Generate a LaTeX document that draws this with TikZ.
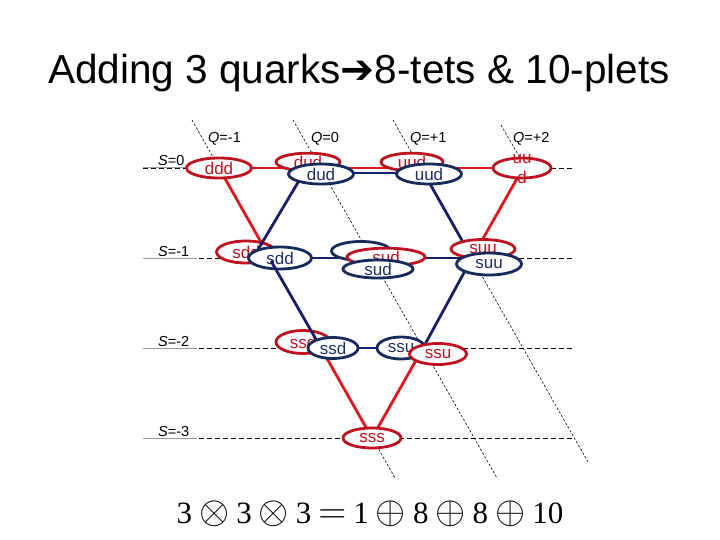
\documentclass[tikz,border=0pt]{standalone}
\usepackage{fix-cm}
\usepackage{graphicx}
\usepackage{fontspec}
\setmainfont{Liberation Sans}
\newfontfamily\dejavu{DejaVu Sans}
\newfontfamily\tnr{Liberation Serif}
\usetikzlibrary{shapes.geometric}
\definecolor{ellred}{RGB}{190,18,30}
\definecolor{linered}{RGB}{226,22,28}
\definecolor{navy}{RGB}{22,42,92}
\definecolor{navyline}{RGB}{26,30,104}
\definecolor{navytext}{RGB}{30,48,100}
\newcommand{\qgap}{\hspace{7pt}}
\newcommand{\qsym}[1]{\scalebox{1.25}{$#1$}}
\begin{document}
\begin{tikzpicture}[x=1pt,y=-1pt,
  redell/.style={ellipse, draw=ellred, line width=2.8pt, fill=white, inner sep=0pt, text=ellred, font=\fontsize{17}{20}\selectfont},
  blueell/.style={ellipse, draw=navy, line width=2.8pt, fill=white, inner sep=0pt, text=navytext, font=\fontsize{17}{20}\selectfont},
  redline/.style={draw=linered, line width=2.8pt},
  navline/.style={draw=navyline, line width=2.8pt},
  srow/.style={draw=black, line width=0.8pt, dash pattern=on 5pt off 3pt},
  sunder/.style={draw=gray!80, line width=1pt},
  qline/.style={draw=black, line width=0.6pt, dash pattern=on 2.5pt off 1.8pt},
  axlabel/.style={font=\fontsize{14.5}{16}\selectfont, anchor=base west, inner sep=0pt},
]
\useasboundingbox (0,0) rectangle (720,540);
\fill[white] (0,0) rectangle (720,540);

% title
\node[font=\fontsize{40.5}{48}\selectfont, anchor=base, inner sep=0pt] (title) at (359,84)
  {Adding 3 quarks{\dejavu ➔}8-tets \& 10-plets};

% grid: strangeness rows
\foreach \yy in {168,258,348,438} {
  \draw[srow] (143,\yy) -- (574,\yy);
  \draw[sunder] (143,\yy) -- (197,\yy);
}
\node[axlabel] (s0) at (158,166) {\textit{S}=0};
\node[axlabel] (s1) at (158,256) {\textit{S}=-1};
\node[axlabel] (s2) at (158,346) {\textit{S}=-2};
\node[axlabel] (s3) at (158,436) {\textit{S}=-3};

% grid: charge lines
\draw[qline] (192,120) -- (395,478);
\draw[qline] (293,120) -- (497,478);
\draw[qline] (393,120) -- (588,462);
\draw[qline] (501,125) -- (523,163);
\node[axlabel] (qm1) at (208,143) {\textit{Q}=-1};
\node[axlabel] (q0) at (311,143) {\textit{Q}=0};
\node[axlabel] (qp1) at (410,143) {\textit{Q}=+1};
\node[axlabel] (qp2) at (513,143) {\textit{Q}=+2};

% lattice points
\coordinate (pddd) at (219,168);
\coordinate (pdud) at (321,168);
\coordinate (puud) at (421,168);
\coordinate (puuu) at (523,168);
\coordinate (psdd) at (270,258);
\coordinate (psud) at (372,258);
\coordinate (psuu) at (472,258);
\coordinate (pssd) at (321,348);
\coordinate (pssu) at (423,348);
\coordinate (psss) at (372,438);
\coordinate (oa) at (303,174);
\coordinate (ob) at (253,258);
\coordinate (oc) at (271,261);
\coordinate (oh1) at (321,173);
\coordinate (oh2) at (429,173);

% decuplet connectors
\draw[redline] (pddd) -- (puuu);
\draw[redline] (pddd) -- (psdd);
\draw[redline] (pssd) -- (psss);
\draw[redline] (psss) -- (pssu);
\draw[redline] (psuu) -- (puuu);

% octet connectors (under decuplet ellipses)
\draw[navline] (puud) -- (psuu);
\draw[navline] (pssu) -- (psuu);
\draw[navline] (psdd) -- (psuu);

% decuplet ellipses
\node[redell, minimum width=65pt, minimum height=20pt] (dddR) at (219,168) {ddd};
\node[redell, minimum width=64pt, minimum height=17pt] (dudR) at (308,162) {dud};
\node[redell, minimum width=62pt, minimum height=17pt] (uudR) at (412,162) {uud};
\node[redell, minimum width=58pt, minimum height=20pt] (uuuR) at (522,168) {};
\node[font=\fontsize{17}{20}\selectfont, text=ellred, anchor=base, inner sep=0pt] (uuuA) at (522,164) {uu};
\node[font=\fontsize{17}{20}\selectfont, text=ellred, anchor=base, inner sep=0pt] (uuuB) at (522,184) {d};
\node[redell, minimum width=59pt, minimum height=22pt] (sddR) at (246,252) {sdd};
\node[redell, minimum width=64pt, minimum height=19pt] (suuR) at (483,249) {suu};
\node[redell, minimum width=54pt, minimum height=23pt] (ssdR) at (303,342) {ssd};
\node[redell, minimum width=58pt, minimum height=20pt] (sssR) at (372,438) {sss};

% octet connectors over decuplet ellipses
\draw[navline] (oa) -- (ob);
\draw[navline] (oh1) -- (oh2);

% octet ellipses
\node[blueell, minimum width=65pt, minimum height=20pt] (dudB) at (321,174) {dud};
\node[blueell, minimum width=65pt, minimum height=20pt] (uudB) at (429,174) {uud};
\node[blueell, minimum width=63pt, minimum height=22pt] (sddB) at (280,258) {sdd};
\node[blueell, minimum width=65pt, minimum height=22pt] (suuB) at (489,264) {suu};
\node[blueell, minimum width=48pt, minimum height=22pt] (ssuB) at (401,348) {ssu};
\node[blueell, minimum width=59pt, minimum height=19pt] (sudBb) at (361,251) {};

\draw[navline] (oc) -- (pssd);
\draw[navline] (ssuB) -- (pssd);
\node[blueell, minimum width=50pt, minimum height=21pt] (ssdB) at (333,348) {ssd};

\node[redell, minimum width=78pt, minimum height=16pt] (sudR) at (386,257) {sud};
\node[blueell, minimum width=70pt, minimum height=18pt] (sudB) at (378,269) {sud};
\node[redell, minimum width=57pt, minimum height=21pt] (ssuR) at (438,354) {ssu};

% formula
\node[font=\fontsize{31}{36}\selectfont, anchor=base, inner sep=0pt] (formula) at (370,523)
  {\tnr 3\qgap\qsym{\otimes}\qgap3\qgap\qsym{\otimes}\qgap3\qgap\qsym{=}\qgap1\qgap\qsym{\oplus}\qgap8\qgap\qsym{\oplus}\qgap8\qgap\qsym{\oplus}\qgap10};
\end{tikzpicture}
\end{document}
